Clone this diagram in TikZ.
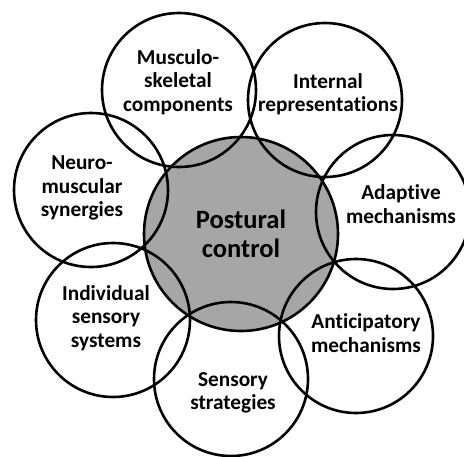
\documentclass[tikz,border=0pt]{standalone}
\usepackage{fontspec}
\setmainfont{Carlito}[Ligatures=NoCommon]
\usepackage{tikz}
\usetikzlibrary{positioning}

\begin{document}
\begin{tikzpicture}[
  x=1pt, y=-1pt,
  hub/.style={draw,circle,line width=2.6pt,fill=black!35,minimum size=194pt,inner sep=0pt,
    align=center,font=\fontsize{26.5}{28.5}\selectfont\bfseries},
  petal/.style={draw,circle,line width=2.6pt,minimum size=154pt,inner sep=0pt},
  petaltext/.style={align=center,inner sep=0pt,font=\fontsize{21.3}{23.5}\selectfont\bfseries}
]
\useasboundingbox (0,0) rectangle (464,456);
\node[hub] (hub) at (241,234) {Postural\\control};
\node[petal] (musc) at (179,90) {};
\node[petal] (intrep) at (325,100) {};
\node[petal] (adapt) at (393,212) {};
\node[petal] (antic) at (356,336) {};
\node[petal] (sstrat) at (231,379) {};
\node[petal] (indiv) at (113,320) {};
\node[petal] (neuro) at (91,190) {};
% labels, slightly off the circle centres
\node[petaltext] (musc-t) at (178,82) {Musculo-\\skeletal\\components};
\node[petaltext] (intrep-t) at (328,94) {Internal\\representa\kern0pt tions};
\node[petaltext] (adapt-t) at (401,204) {Adapt\kern0pt ive\\mechanisms};
\node[petaltext] (antic-t) at (366,333) {Ant\kern0pt icipatory\\mechanisms};
\node[petaltext] (sstrat-t) at (233,393) {Sensory\\strategies};
\node[petaltext] (indiv-t) at (106,318) {Individual\\sensory\\systems};
\node[petaltext] (neuro-t) at (82,188) {Neuro-\\muscular\\synergies};
\end{tikzpicture}
\end{document}
